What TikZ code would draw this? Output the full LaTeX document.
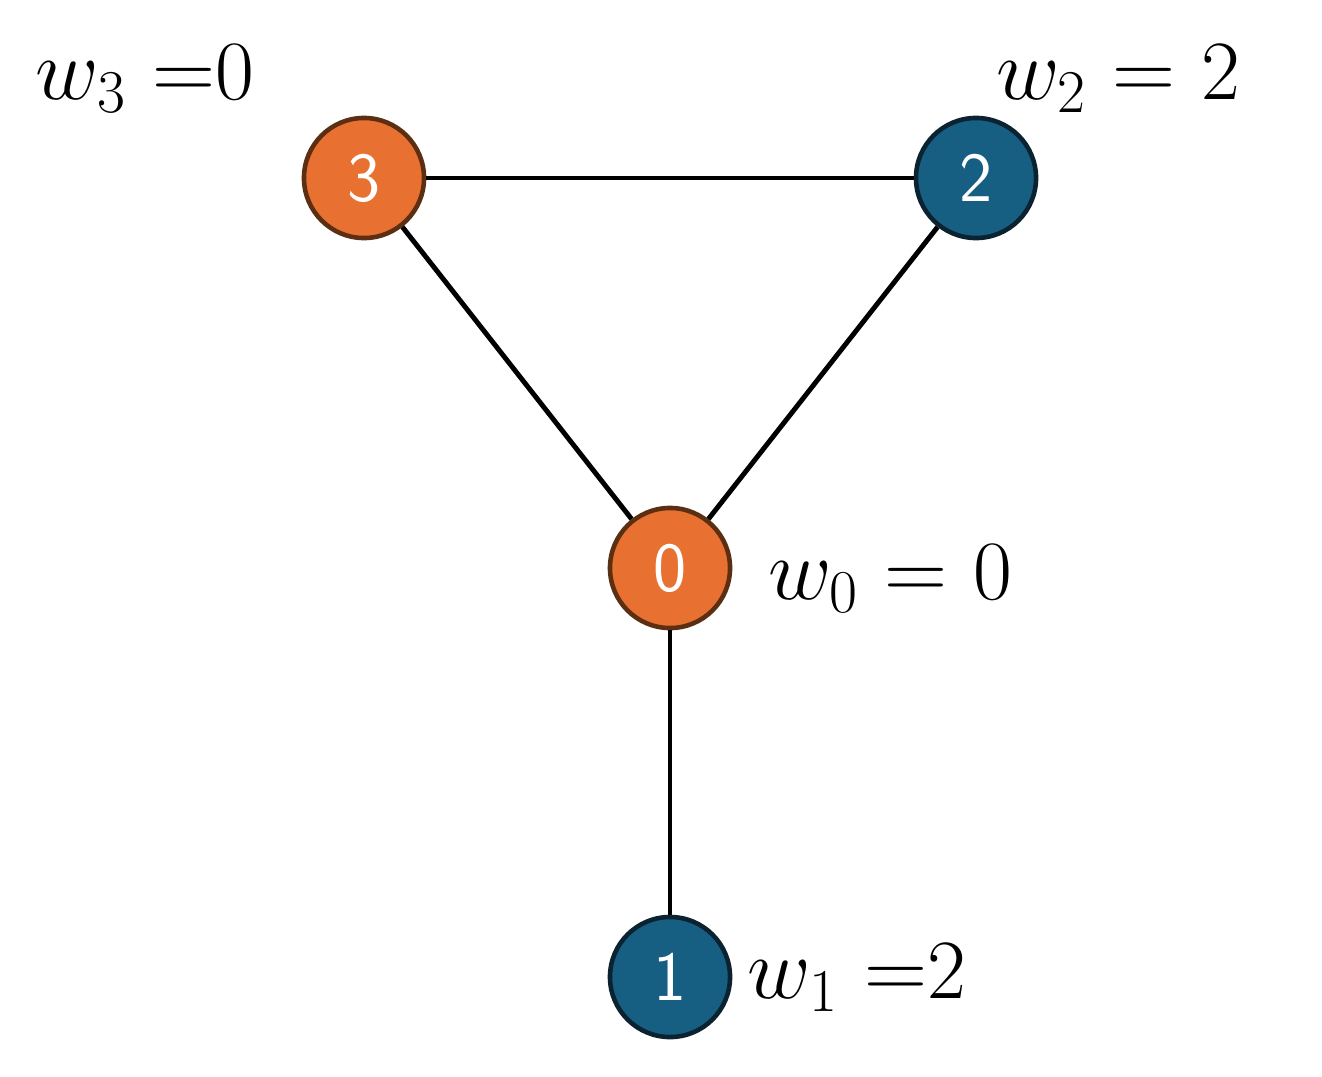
\documentclass[tikz,border=0pt]{standalone}
\usepackage{tikz}
\definecolor{vorange}{HTML}{E87132}
\definecolor{vorangeb}{HTML}{5C2E12}
\definecolor{vblue}{HTML}{175F82}
\definecolor{vblueb}{HTML}{0B2230}
\tikzset{
  vtx/.style={circle,minimum size=1.2cm,inner sep=0pt,line width=1.3pt,
    text=white,font=\sffamily\fontsize{20}{20}\selectfont},
  ovtx/.style={vtx,fill=vorange,draw=vorangeb},
  bvtx/.style={vtx,fill=vblue,draw=vblueb},
  wlab/.style={font=\fontsize{24}{24}\selectfont}
}
\begin{document}
\begin{tikzpicture}[x=0.01cm,y=-0.01cm]
  \useasboundingbox (0,0) rectangle (1322,1076);
  \node[ovtx] (n3) at (364,178) {3};
  \node[bvtx] (n2) at (976,178) {2};
  \node[ovtx] (n0) at (670,568) {0};
  \node[bvtx] (n1) at (670,977) {1};

  % edges
  \begin{scope}[line width=1.4pt]
    \draw (n3) -- (n2);
    \draw (n3) -- (n0);
    \draw (n2) -- (n0);
    \draw (n0) -- (n1);
  \end{scope}

  % weights
  \node[wlab] (l3) at (145,78) {$w_3$ $=$0};
  \node[wlab] (l2) at (1118,78) {$w_2$ $=$ 2};
  \node[wlab] (l0) at (890,578) {$w_0$ $=$ 0};
  \node[wlab] (l1) at (857,977) {$w_1$ $=$2};
\end{tikzpicture}
\end{document}
